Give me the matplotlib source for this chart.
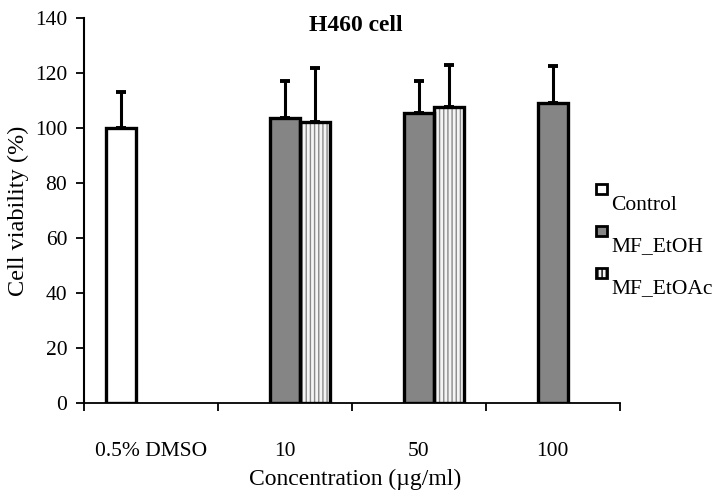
import numpy as np
import matplotlib.pyplot as plt
from matplotlib.patches import Rectangle

categories = ["0.5% DMSO", "10", "50", "100"]
series = ["Control", "MF_EtOH", "MF_EtOAc"]
# nan = no bar for that group
control = [100.0, np.nan, np.nan, np.nan]
control_err = [13.0, np.nan, np.nan, np.nan]
etoh = [np.nan, 103.6, 105.5, 109.0]
etoh_err = [np.nan, 13.5, 11.7, 13.3]
etoac = [np.nan, 102.2, 107.7, np.nan]
etoac_err = [np.nan, 19.6, 15.0, np.nan]
yticks = [0, 20, 40, 60, 80, 100, 120, 140]

plt.rcParams['font.family'] = ['Liberation Serif', 'DejaVu Serif']

fig = plt.figure(figsize=(7.24, 4.94), dpi=100)
ax = fig.add_axes([0.116, 0.184, 0.74, 0.78])

x = np.arange(len(categories))
w = 0.224
ekw = dict(elinewidth=2.2, capsize=3.5, capthick=2.8, ecolor='black')

def draw(vals, errs, off, face, hatch=None):
    vals = np.array(vals); errs = np.array(errs)
    m = ~np.isnan(vals)
    if hatch:
        # hatch drawn in grey underneath, outline on top
        ax.bar(x[m] + off, vals[m], w, color=face, edgecolor='#8a8a8a',
               hatch=hatch, linewidth=0, zorder=2)
        face = 'none'
    ax.bar(x[m] + off, vals[m], w, color=face, edgecolor='black',
           linewidth=2.4, zorder=3)
    ax.errorbar(x[m] + off, vals[m], yerr=[np.zeros(m.sum()), errs[m]],
                fmt='none', zorder=2.5, **ekw)

plt.rcParams['hatch.linewidth'] = 1.0
draw(control, control_err, -w, 'white')
draw(etoh, etoh_err, 0, '#858585')
draw(etoac, etoac_err, w, '#f4f4f4', hatch='||||')

ax.set_xlim(-0.5, 3.5)
ax.set_ylim(0, 140)
ax.set_yticks(yticks)
ax.set_xticks(x)
ax.set_xticklabels(categories)
ax.set_xticks(np.arange(-0.5, 4.0, 1.0), minor=True)
ax.tick_params(axis='x', which='major', length=0, pad=28, labelsize=15.5)
ax.tick_params(axis='x', which='minor', length=6, width=1.3, direction='out')
ax.tick_params(axis='y', length=6, width=1.3, pad=6, labelsize=15.5)
for s in ['top', 'right']:
    ax.spines[s].set_visible(False)
ax.spines['left'].set_linewidth(1.5)
ax.spines['bottom'].set_linewidth(1.3)

ax.set_ylabel("Cell viability (%)", fontsize=17.5, labelpad=4)
fig.text(0.49, 0.018, "Concentration (µg/ml)", fontsize=17, ha='center')
fig.text(0.492, 0.938, "H460 cell", fontsize=17, fontweight='bold', ha='center')

# legend: small box with label set slightly lower
leg = [('white', None), ('#858585', None), ('#f4f4f4', '||||')]
ys = [189, 231, 273]
for (fc, h), lbl, yy in zip(leg, series, ys):
    fig.patches.append(Rectangle((596 / 724, 1 - (yy + 5) / 494), 11 / 724, 10 / 494,
                                 transform=fig.transFigure, facecolor=fc,
                                 edgecolor='black', linewidth=2, hatch=h))
    fig.text(611 / 724, 1 - (yy + 16) / 494, lbl, fontsize=15.5, va='center')

fig.savefig("out.png", dpi=100)
